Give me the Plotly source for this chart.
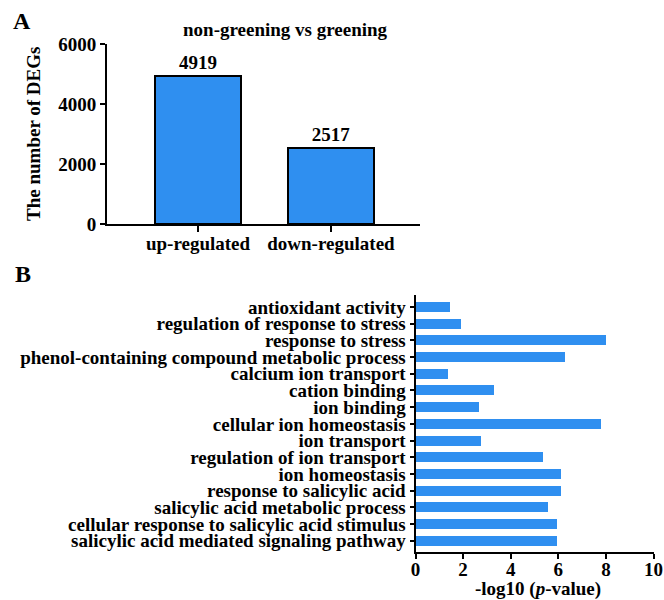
import plotly.graph_objects as go

# Panel A data
deg_categories = ["up-regulated", "down-regulated"]
deg_counts = [4919, 2517]

# Panel B data (bottom to top)
go_terms = [
    "salicylic acid mediated signaling pathway",
    "cellular response to salicylic acid stimulus",
    "salicylic acid metabolic process",
    "response to salicylic acid",
    "ion homeostasis",
    "regulation of ion transport",
    "ion transport",
    "cellular ion homeostasis",
    "ion binding",
    "cation binding",
    "calcium ion transport",
    "phenol-containing compound metabolic process",
    "response to stress",
    "regulation of response to stress",
    "antioxidant activity",
]
go_values = [5.91, 5.91, 5.53, 6.10, 6.10, 5.32, 2.75, 7.76, 2.64, 3.26, 1.33, 6.28, 7.97, 1.88, 1.42]

W, H = 664, 600
FONT = "Liberation Serif"
BLUE = "#2F8FF0"

def px_x(p):
    return p / W

def px_y(p):
    return 1 - p / H

fig = go.Figure()

fig.add_trace(go.Bar(
    x=deg_categories, y=deg_counts,
    marker=dict(color=BLUE, line=dict(color="black", width=2)),
    width=0.65,
    text=[str(v) for v in deg_counts], textposition="outside",
    textfont=dict(family=FONT, size=19, color="black", weight="bold"),
    cliponaxis=False,
    xaxis="x", yaxis="y", showlegend=False,
))

fig.add_trace(go.Bar(
    x=go_values, y=list(range(len(go_terms))), orientation="h",
    marker=dict(color=BLUE, line=dict(width=0)),
    width=0.6,
    xaxis="x2", yaxis="y2", showlegend=False,
))

axfont = dict(family=FONT, size=19, color="black", weight="bold")
common = dict(showline=True, linecolor="black", linewidth=2, ticks="outside",
              tickcolor="black", tickwidth=2, showgrid=False, zeroline=False,
              tickfont=axfont, automargin=False, ticklabeloverflow="allow")

fig.update_layout(
    width=W, height=H,
    margin=dict(l=0, r=0, t=0, b=0),
    paper_bgcolor="white", plot_bgcolor="white",
    bargap=0,
    xaxis=dict(domain=[px_x(107), px_x(420)], range=[-0.685, 1.67],
               ticklen=6, anchor="y", ticklabelstandoff=-5, **common),
    yaxis=dict(domain=[px_y(224), px_y(44)], range=[0, 6000],
               tickvals=[0, 2000, 4000, 6000], ticklen=5, anchor="x", **common),
    xaxis2=dict(domain=[px_x(415.5), px_x(653.5)], range=[0, 10],
                tickvals=[0, 2, 4, 6, 8, 10], ticklen=5, anchor="y2",
                ticklabelstandoff=-6, **common),
    yaxis2=dict(domain=[px_y(551.7), px_y(295)], range=[-0.66, 14.72],
                tickvals=list(range(len(go_terms))), ticktext=go_terms,
                ticklen=4, anchor="x2", **common),
    annotations=[
        dict(text="A", x=px_x(11), y=px_y(21), xref="paper", yref="paper",
             xanchor="left", yanchor="middle", showarrow=False,
             font=dict(family=FONT, size=24, color="black", weight="bold")),
        dict(text="B", x=px_x(13), y=px_y(274), xref="paper", yref="paper",
             xanchor="left", yanchor="middle", showarrow=False,
             font=dict(family=FONT, size=24, color="black", weight="bold")),
        dict(text="non-greening vs greening", x=px_x(285), y=px_y(29),
             xref="paper", yref="paper", xanchor="center", yanchor="middle",
             showarrow=False, font=axfont),
        dict(text="The number of DEGs", x=px_x(33), y=px_y(134),
             xref="paper", yref="paper", xanchor="center", yanchor="middle",
             textangle=-90, showarrow=False, font=axfont),
        dict(text="-log10 (<i>p</i>-value)", x=px_x(538), y=px_y(589),
             xref="paper", yref="paper", xanchor="center", yanchor="middle",
             showarrow=False, font=axfont),
    ],
)

fig.write_html("out.html")
